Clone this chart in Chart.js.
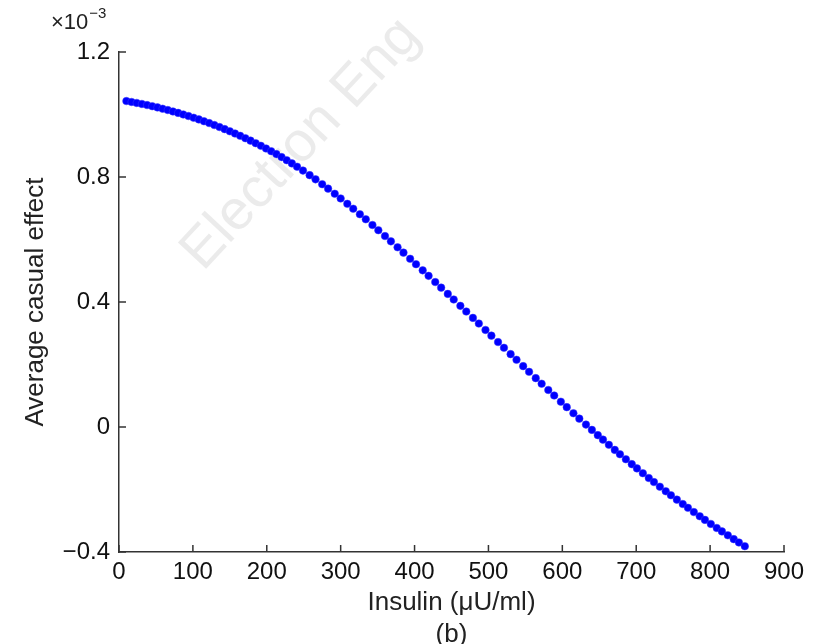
<!DOCTYPE html>
<html>
<head>
<meta charset="utf-8">
<script src="https://cdn.jsdelivr.net/npm/chart.js@4.4.1/dist/chart.umd.min.js"></script>
<style>
  html, body { margin: 0; padding: 0; background: #ffffff; }
  #wrap { width: 825px; height: 644px; position: relative; }
</style>
</head>
<body>
<div id="wrap"><canvas id="c" width="825" height="644"></canvas></div>
<script>
// Insulin values (µU/ml)
const insulin = [
  10,17,24,31,38,45,52,59,66,73,80,87,94,101,108,115,122,129,136,143,
  150,157,164,171,178,185,192,199,206,213,220,227,234,241,
  249,258,266,275,283,292,300,309,317,326,334,343,351,360,368,377,
  385,394,402,411,419,428,436,445,453,462,470,479,487,496,504,513,
  521,530,538,547,555,564,572,581,589,598,606,615,623,632,640,
  648,655,663,671,678,686,694,701,709,717,724,732,740,747,755,763,
  770,778,786,793,801,809,816,824,832,839,847
];
// Average casual effect (x10^-3)
const effect = [
  1.0430,1.0401,1.0370,1.0337,1.0302,1.0265,1.0227,1.0186,1.0143,1.0098,
  1.0051,1.0002,0.9951,0.9898,0.9843,0.9785,0.9726,0.9663,0.9599,0.9532,
  0.9463,0.9392,0.9318,0.9242,0.9163,0.9082,0.8999,0.8913,0.8825,0.8733,
  0.8637,0.8538,0.8436,0.8330,
  0.8205,0.8059,0.7925,0.7770,0.7628,0.7464,0.7314,0.7142,0.6986,0.6808,
  0.6647,0.6464,0.6298,0.6110,0.5941,0.5750,0.5579,0.5384,0.5210,0.5013,
  0.4837,0.4638,0.4460,0.4259,0.4080,0.3877,0.3696,0.3492,0.3310,0.3106,
  0.2923,0.2718,0.2536,0.2332,0.2151,0.1947,0.1766,0.1564,0.1385,0.1185,
  0.1008,0.0810,0.0635,0.0440,0.0268,0.0077,-0.0092,
  -0.0260,-0.0405,-0.0569,-0.0732,-0.0872,-0.1032,-0.1189,-0.1325,-0.1479,
  -0.1631,-0.1762,-0.1910,-0.2056,-0.2183,-0.2325,-0.2465,-0.2586,-0.2722,
  -0.2856,-0.2972,-0.3102,-0.3231,-0.3341,-0.3466,-0.3589,-0.3695,-0.3814
];
const xTicks = [0,100,200,300,400,500,600,700,800,900];
const yTicks = [-0.4,0,0.4,0.8,1.2];
const yTickLabels = ['\u22120.4','0','0.4','0.8','1.2'];
const xTitle = 'Insulin (\u03bcU/ml)';
const subTitle = '(b)';
const yTitle = 'Average casual effect';
const watermark = 'Electron Eng';

const FONT = "'Liberation Sans', Arial, Helvetica, sans-serif";
const AXIS = '#333333';

const points = insulin.map((x, i) => ({ x: x, y: effect[i] }));

const decor = {
  id: 'decor',
  beforeDraw(chart) {
    const ctx = chart.ctx;
    ctx.save();
    ctx.fillStyle = '#ffffff';
    ctx.fillRect(0, 0, chart.width, chart.height);
    ctx.translate(203, 272);
    ctx.rotate(-47 * Math.PI / 180);
    ctx.font = '56px ' + FONT;
    ctx.fillStyle = 'rgba(205,205,205,0.4)';
    ctx.textBaseline = 'alphabetic';
    ctx.fillText(watermark, 0, 0);
    ctx.restore();
  },
  afterDraw(chart) {
    const ctx = chart.ctx;
    const xs = chart.scales.x, ys = chart.scales.y;
    const L = chart.chartArea.left, B = chart.chartArea.bottom;
    ctx.save();
    ctx.strokeStyle = AXIS;
    ctx.lineWidth = 1.5;
    ctx.beginPath();
    xTicks.forEach(v => {
      const px = xs.getPixelForValue(v);
      ctx.moveTo(px, B);
      ctx.lineTo(px, B - 7);
    });
    yTicks.forEach(v => {
      const py = ys.getPixelForValue(v);
      ctx.moveTo(L, py);
      ctx.lineTo(L + 7, py);
    });
    ctx.stroke();
    // exponent label
    ctx.fillStyle = '#222222';
    ctx.textBaseline = 'alphabetic';
    ctx.font = '22px ' + FONT;
    ctx.fillText('\u00d710', 51, 29);
    const w = ctx.measureText('\u00d710').width;
    ctx.font = '15px ' + FONT;
    ctx.fillText('\u22123', 51 + w + 1, 18);
    ctx.restore();
  }
};

new Chart(document.getElementById('c'), {
  type: 'scatter',
  data: {
    datasets: [{
      data: points,
      pointRadius: 3.8,
      pointHoverRadius: 3.8,
      backgroundColor: '#0000ff',
      borderColor: 'rgba(60,60,255,0.6)',
      borderWidth: 0.8
    }]
  },
  options: {
    responsive: false,
    animation: false,
    devicePixelRatio: 1,
    layout: { padding: { top: 52, right: 41, left: 0, bottom: 0 } },
    plugins: { legend: { display: false }, tooltip: { enabled: false } },
    scales: {
      x: {
        type: 'linear',
        min: 0, max: 900,
        afterBuildTicks(s) { s.ticks = xTicks.map(v => ({ value: v })); },
        afterFit(s) { s.height = 92; },
        grid: { display: false, drawTicks: false },
        border: { display: true, color: AXIS, width: 1.5 },
        ticks: { color: '#111111', font: { family: FONT, size: 24 }, padding: 6, maxRotation: 0, autoSkip: false },
        title: {
          display: true,
          text: [xTitle, subTitle],
          color: '#222222',
          font: { family: FONT, size: 26 },
          padding: { top: 0, bottom: -6 },
          lineHeight: 1.04
        }
      },
      y: {
        type: 'linear',
        min: -0.4, max: 1.2,
        afterBuildTicks(s) { s.ticks = yTicks.map(v => ({ value: v })); },
        afterFit(s) { s.width = 119; },
        grid: { display: false, drawTicks: false },
        border: { display: true, color: AXIS, width: 1.5 },
        ticks: {
          color: '#111111', font: { family: FONT, size: 24 }, padding: 9, autoSkip: false,
          callback: (v) => { const i = yTicks.findIndex(t => Math.abs(t - v) < 1e-9); return i >= 0 ? yTickLabels[i] : ''; }
        },
        title: {
          display: true,
          text: yTitle,
          color: '#222222',
          font: { family: FONT, size: 26 },
          padding: { top: 20, bottom: 0 }
        }
      }
    }
  },
  plugins: [decor]
});
</script>
</body>
</html>
